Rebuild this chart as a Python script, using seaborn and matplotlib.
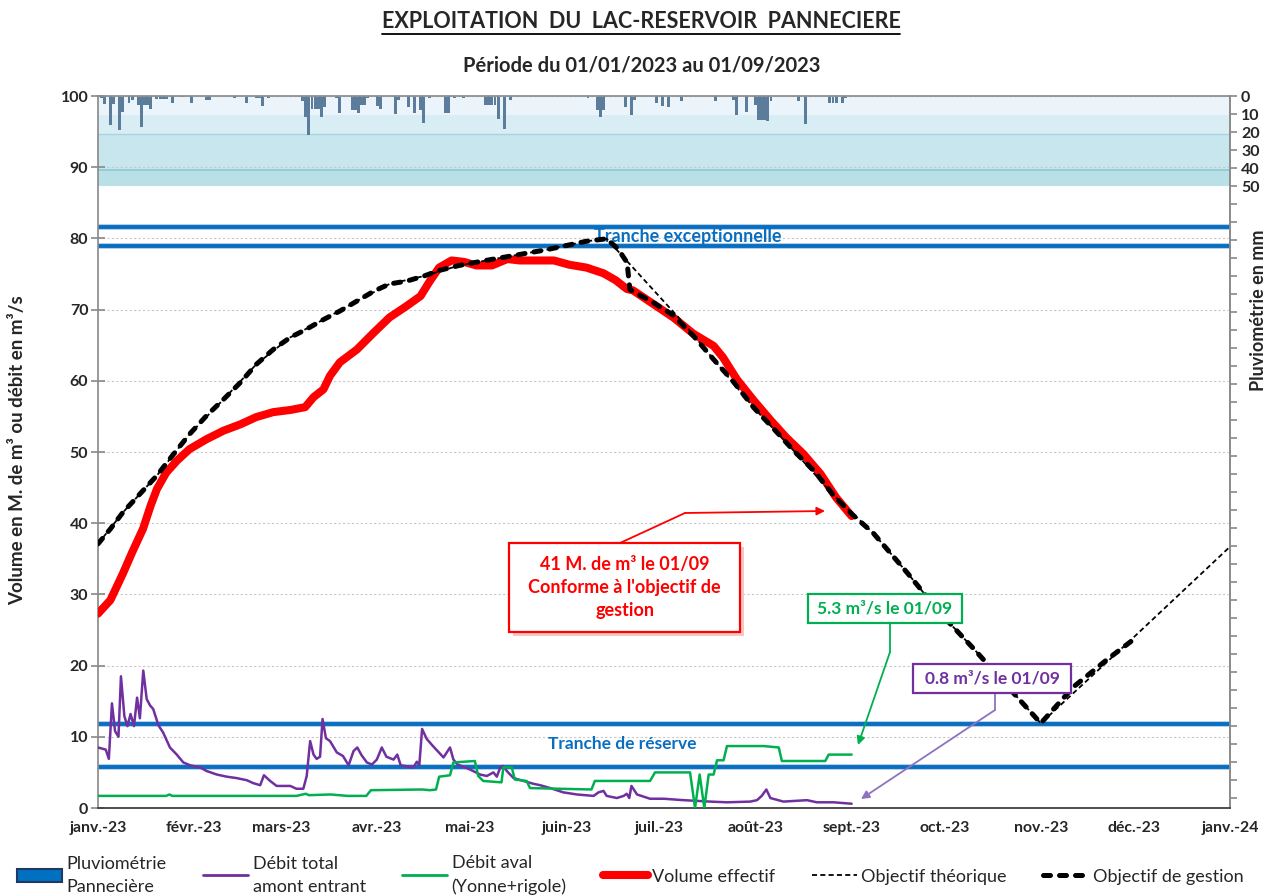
"""Exploitation du lac-réservoir de Pannecière - volume, débits et pluviométrie 2023."""
import pandas as pd
import matplotlib
matplotlib.use("Agg")
import matplotlib.pyplot as plt
import matplotlib.patheffects as pe
from matplotlib.lines import Line2D
from matplotlib.patches import Patch, Rectangle
import seaborn as sns

DEBUT = pd.Timestamp("2023-01-01")
FIN = pd.Timestamp("2024-01-01")

mois_labels = ["janv.-23", "févr.-23", "mars-23", "avr.-23", "mai-23", "juin-23", "juil.-23",
               "août-23", "sept.-23", "oct.-23", "nov.-23", "déc.-23", "janv.-24"]

# volume effectif (M. de m3), jours depuis le 01/01/2023
vol_jour = [0, 4, 8, 11, 14.5, 17, 19, 22, 25.5, 29.5, 35, 40.5, 46, 51, 56.5, 62, 66.8, 69.5,
            72.7, 74.8, 78, 83.5, 89, 94, 99.5, 104, 107, 110, 114, 118, 122, 127, 132, 136,
            141, 147, 152, 157.5, 163, 167, 170.5, 172.5, 179, 185.5, 192, 198.5, 201.5, 206,
            211.5, 217, 222, 227.5, 233, 238, 243]
vol_val = [27.3, 29.2, 32.9, 35.9, 39.2, 42.5, 44.8, 47.1, 48.8, 50.4, 51.8, 53.0, 53.9, 54.9,
           55.6, 55.9, 56.3, 57.7, 58.8, 60.7, 62.6, 64.4, 66.8, 68.9, 70.5, 71.9, 74.0, 75.9,
           76.9, 76.7, 76.2, 76.2, 77.1, 76.9, 76.9, 76.9, 76.3, 75.9, 75.1, 74.1, 72.9, 72.7,
           70.8, 68.9, 66.6, 64.9, 63.3, 60.2, 57.2, 54.4, 52.0, 49.7, 46.9, 43.6, 41.0]

# objectif de gestion
gest_jour = [0, 4, 8, 13.5, 19, 24, 29.5, 35, 40.5, 46, 51, 56.5, 62, 67, 72.7, 78, 83.5, 89,
             94, 99.5, 105, 110, 116.5, 125, 131.5, 138, 144.5, 151, 157.5, 164, 167.7, 170.6,
             171.5, 179, 185.5, 192, 198.5, 205, 211.5, 218, 224.5, 231, 237, 243, 250, 261,
             271.5, 282.5, 293, 304, 314.5, 325.5, 334]
gest_val = [37.1, 39.2, 41.5, 44.1, 46.7, 49.5, 52.5, 55.1, 57.4, 59.8, 62.3, 64.4, 66.1, 67.2,
            68.6, 69.8, 71.2, 72.6, 73.6, 74.0, 74.7, 75.5, 76.2, 76.9, 77.4, 77.9, 78.4, 79.0,
            79.6, 79.95, 78.5, 76.6, 72.8, 71.0, 69.2, 66.3, 63.0, 59.8, 56.2, 53.2, 50.1, 47.3,
            44.0, 41.3, 38.6, 33.0, 27.4, 22.3, 17.2, 11.9, 17.0, 20.9, 23.7]

# objectif théorique
theo_jour = [0, 8, 19, 29.5, 40.5, 51, 62, 72.7, 83.5, 94, 105, 116.5, 131.5, 144.5, 157.5,
             164, 188, 198.5, 211.5, 224.5, 237, 250, 261, 271.5, 282.5, 293, 304, 334, 365]
theo_val = [37.1, 41.5, 46.7, 52.5, 57.4, 62.3, 66.1, 68.6, 71.2, 73.6, 74.7, 76.2, 77.4, 78.4,
            79.6, 79.95, 68.5, 63.0, 56.2, 50.1, 44.0, 38.6, 33.0, 27.4, 22.3, 17.2, 11.9, 24.0,
            36.7]

# débit total amont entrant (m3/s)
amont_jour = [0, 2.5, 3.5, 4.5, 5.5, 6.6, 7.4, 8.5, 9.5, 10.5, 11.6, 12.6, 13.5, 14.6, 15.7,
              16.8, 17.8, 19.5, 21, 23.2, 25.4, 27.5, 29.7, 32.9, 35, 38.3, 41.5, 44.7, 48, 50,
              52.3, 53.5, 55.5, 57.6, 62, 64, 66.2, 67.3, 68.4, 69.5, 70.5, 71.6, 72.4, 73.5,
              74.8, 77, 79, 80.8, 82.4, 83.6, 85, 86.7, 88.3, 89.9, 91.5, 93, 95.3, 96.5, 97.6,
              101.7, 102.8, 103.6, 104.5, 106, 108, 111.4, 113.5, 114.6, 116, 120, 123.2, 125.4,
              127.5, 128.6, 129.7, 130.7, 131.8, 134, 137.2, 140.4, 142.6, 145.8, 150, 154.4,
              159.8, 161.4, 163, 164, 167.3, 169.5, 170.5, 171.3, 172, 173.8, 178, 182.4, 188.8,
              197.4, 202.8, 210.3, 212.5, 214, 215.5, 216.8, 221, 228.6, 231.8, 237.2, 243]
amont_val = [8.5, 8.2, 6.9, 14.7, 10.8, 10.0, 18.5, 12.9, 11.5, 13.2, 11.5, 15.5, 12.6, 19.3,
             15.3, 14.4, 13.9, 11.6, 10.6, 8.5, 7.5, 6.4, 6.0, 5.7, 5.2, 4.7, 4.4, 4.2, 3.9, 3.5,
             3.2, 4.6, 3.8, 3.1, 3.1, 2.7, 2.7, 4.5, 9.4, 7.5, 6.9, 7.2, 12.5, 9.8, 9.4, 7.8,
             7.3, 6.0, 8.0, 8.5, 7.4, 6.4, 6.1, 6.8, 8.5, 7.2, 6.8, 7.5, 6.0, 5.7, 6.5, 6.0,
             11.1, 9.7, 8.7, 7.1, 8.5, 6.8, 6.1, 5.4, 4.7, 4.5, 5.0, 4.4, 5.7, 5.9, 5.2, 4.2,
             3.8, 3.4, 3.2, 2.8, 2.2, 1.9, 1.7, 2.2, 2.4, 1.7, 1.4, 1.7, 2.0, 1.4, 3.1, 1.9,
             1.3, 1.3, 1.1, 0.9, 0.8, 0.9, 1.1, 1.7, 2.6, 1.4, 0.9, 1.1, 0.8, 0.8, 0.6]

# débit aval (Yonne + rigole)
aval_jour = [0, 22, 23, 24, 64, 67, 68, 75, 80.5, 86.5, 88, 104.6, 107, 109, 110, 113.5, 114.6,
             121.5, 122.6, 124.2, 130.1, 130.7, 133.4, 134.4, 138.2, 139.3, 159.1, 160.2, 178,
             179.6, 190.9, 192.5, 194, 195.5, 196.9, 198.5, 199.6, 201.7, 202.8, 214.6, 219.5,
             220.5, 234.5, 235.6, 243]
aval_val = [1.7, 1.7, 1.9, 1.7, 1.7, 2.0, 1.8, 1.9, 1.7, 1.7, 2.5, 2.6, 2.5, 2.6, 4.4, 4.6, 6.4,
            6.6, 4.5, 3.8, 3.6, 5.7, 5.7, 4.0, 3.8, 2.8, 2.6, 3.8, 3.8, 5.0, 5.0, 0.0, 4.7, 0.0,
            4.7, 4.7, 6.7, 6.7, 8.7, 8.7, 8.5, 6.6, 6.6, 7.5, 7.5]

# pluviométrie journalière Pannecière (mm), jours de pluie seulement
pluie_jour = [1, 2, 4, 5, 7, 8, 10, 11, 13, 14, 15, 16, 17, 19, 20, 21, 22, 24, 27, 30, 35, 36,
              44, 48, 51, 52, 53, 55, 66, 67, 68, 69, 70, 71, 72, 73, 77, 78, 82, 83, 84, 85, 86,
              87, 90, 91, 96, 97, 100, 102, 104, 105, 107, 112, 113, 115, 118, 125, 126, 127,
              128, 129, 131, 133, 158, 161, 162, 163, 170, 172, 173, 180, 182, 184, 188, 199,
              205, 206, 209, 212, 213, 214, 215, 216, 217, 226, 228, 236, 237, 238, 240, 241]
pluie_mm = [1.3, 4.4, 16, 4.4, 19, 8.7, 4, 2, 5, 17, 5, 5, 7.4, 1.5, 1.5, 1.5, 1.5, 4, 0.7, 4,
            2, 2, 1.3, 3.7, 1.3, 1.3, 5.5, 1.3, 3, 11.5, 21.7, 7, 7, 7, 11.8, 6, 1.3, 9.3, 7.8,
            7.8, 9.3, 5, 5, 1.3, 5.5, 7, 10, 2, 6, 9.3, 8, 14.8, 1.3, 9.3, 9.3, 1.3, 1.3, 5.2,
            5.2, 5.2, 5.2, 13, 18.5, 2, 1.3, 8, 11.8, 8, 6, 10.4, 2, 4, 5.5, 6, 2.6, 2.6, 2,
            10.4, 8.7, 5, 13.3, 13.3, 13.3, 14, 2.6, 2.6, 15.6, 3.7, 3.7, 3.7, 4, 1.3]

# tranches (M. de m3)
tranche_exc = [79.0, 81.6]
tranche_res = [5.8, 11.8]
# bandes de fond pluviométrie (mm)
bandes_mm = [0, 10.5, 21, 41, 50]
bandes_col = ["#EAF4FA", "#D9EDF4", "#C7E6ED", "#B9DFE7"]

BLEU = "#0A6EC0"
VIOLET = "#7030A0"
VERT = "#00B050"
W, H = 1268, 896


def en_dates(jours):
    return DEBUT + pd.to_timedelta(pd.Series(jours, dtype=float), unit="D")


def P(x, y):
    """pixels (origine en haut à gauche) -> fraction de figure"""
    return (x / W, 1 - y / H)


sns.set_theme(style="white")
plt.rcParams["font.family"] = ["Lato", "DejaVu Sans"]

fig = plt.figure(figsize=(W / 100, H / 100), dpi=100)
ax = fig.add_axes([98 / W, 1 - 808 / H, (1230 - 98) / W, (808 - 96) / H])
ax2 = ax.twinx()
ax.set_zorder(ax2.get_zorder() + 1)
ax.patch.set_visible(False)

# --- pluviométrie (axe droit inversé)
for (a, b), c in zip(zip(bandes_mm[:-1], bandes_mm[1:]), bandes_col):
    ax2.axhspan(a, b, color=c, lw=0, zorder=0)
ax2.axhline(bandes_mm[2], color="#A6D6E1", lw=1, zorder=1)
ax2.axhline(bandes_mm[3], color="#8FCBD8", lw=1.3, zorder=1)
ax2.bar(en_dates(pluie_jour), pluie_mm, width=0.95, color="#5B7C9A", lw=0, zorder=2)
ax2.set_ylim(395.5, 0)
ax2.set_yticks(range(0, 391, 10))
ax2.set_yticklabels([str(v) if v <= 50 else "" for v in range(0, 391, 10)],
                    fontsize=11.5, fontweight="bold")
ax2.tick_params(axis="y", direction="out", length=5, color="#8c8c8c", pad=3)
for s in ["left", "top", "bottom"]:
    ax2.spines[s].set_visible(False)
ax2.spines["right"].set_color("#8c8c8c")

# --- tranches
for v in tranche_exc + tranche_res:
    ax.axhline(v, color=BLEU, lw=2.8, zorder=2,
               path_effects=[pe.Stroke(linewidth=4, foreground="#9DC3E6"), pe.Normal()])

# --- séries
def trace(jours, vals, **kw):
    sns.lineplot(x=en_dates(jours), y=vals, ax=ax, legend=False, **kw)
    return ax.lines[-1]


trace(amont_jour, amont_val, color=VIOLET, lw=1.8, zorder=3)
trace(aval_jour, aval_val, color=VERT, lw=1.8, zorder=3)
ln = trace(vol_jour, vol_val, color="red", lw=5.8, zorder=4)
ln.set_solid_capstyle("round")
ln.set_solid_joinstyle("round")
ln = trace(theo_jour, theo_val, color="black", lw=1.3, zorder=5)
ln.set_dashes([2.8, 1.8])
ln = trace(gest_jour, gest_val, color="black", lw=3.6, zorder=6)
ln.set_dashes([1.4, 1.8])
ln.set_dash_capstyle("round")

ax.set_xlim(DEBUT, FIN)
ax.set_ylim(0, 100)
ax.set_yticks(range(0, 101, 10))
ax.set_yticklabels([str(v) for v in range(0, 101, 10)], fontsize=11.5, fontweight="bold")
ax.set_xticks(pd.date_range(DEBUT, FIN, freq="MS"))
ax.set_xticklabels(mois_labels, fontsize=11.3, fontweight="bold")
ax.tick_params(axis="y", direction="inout", length=10, color="#8c8c8c", pad=2)
ax.tick_params(axis="x", direction="inout", length=10, width=1.3, color="#404040", pad=4)
ax.set_xlabel("")
ax.set_ylabel("")
ax.yaxis.grid(True, color="#c8c8c8", ls=(0, (2, 2)), lw=0.8)
ax.xaxis.grid(False)
for s in ["left", "top", "right"]:
    ax.spines[s].set_color("#8c8c8c")
ax.spines["bottom"].set_color("#404040")
ax.spines["bottom"].set_linewidth(1.3)

ax.text(DEBUT + pd.Timedelta(days=190), 80.25, "Tranche exceptionnelle", color=BLEU,
        fontsize=13, fontweight="bold", ha="center", va="center", zorder=4)
ax.text(DEBUT + pd.Timedelta(days=169), 9.0, "Tranche de réserve", color=BLEU,
        fontsize=12.5, fontweight="bold", ha="center", va="center", zorder=4)

# --- titres
t = fig.text(*P(641, 22), "EXPLOITATION  DU  LAC-RESERVOIR  PANNECIERE", ha="center",
             va="center", fontsize=15.5, fontweight="bold")
fig.text(*P(642, 65), "Période du 01/01/2023 au 01/09/2023", ha="center", va="center",
         fontsize=14.5, fontweight="bold")
fig.text(*P(18, 450), "Volume en M. de m³ ou débit en m³/s", rotation=90, ha="center",
         va="center", fontsize=13.5, fontweight="bold")
fig.text(*P(1258, 310), "Pluviométrie en mm", rotation=90, ha="center", va="center",
         fontsize=13, fontweight="bold")


# --- encadrés
def encadre(x0, y0, x1, y1, couleur, lignes, ombre=False, taille=12.5):
    r = Rectangle(P(x0, y1), (x1 - x0) / W, (y1 - y0) / H, transform=fig.transFigure,
                  facecolor="white", edgecolor=couleur, lw=1.6, zorder=10)
    if ombre:
        r.set_path_effects([pe.SimplePatchShadow(offset=(3, -3), shadow_rgbFace="#F7B8B8",
                                                 alpha=0.8), pe.Normal()])
    fig.patches.append(r)
    fig.text(*P((x0 + x1) / 2, (y0 + y1) / 2), lignes, color=couleur, ha="center",
             va="center", fontsize=taille, fontweight="bold", linespacing=1.45, zorder=11)


def fleche(points, couleur):
    for a, b in zip(points[:-2], points[1:-1]):
        fig.lines.append(Line2D([P(*a)[0], P(*b)[0]], [P(*a)[1], P(*b)[1]],
                                transform=fig.transFigure, color=couleur, lw=1.3))
    fig.add_artist(plt.Annotation("", xy=P(*points[-1]), xytext=P(*points[-2]),
                                  xycoords="figure fraction", textcoords="figure fraction",
                                  arrowprops=dict(arrowstyle="-|>", color=couleur, lw=1.3,
                                                  mutation_scale=12, shrinkA=0, shrinkB=0)))


encadre(509, 543, 740, 632, "red",
        "41 M. de m³ le 01/09\nConforme à l'objectif de\ngestion", ombre=True, taille=13)
fleche([(620, 543), (685, 513), (825, 511)], "red")
encadre(808, 594, 962, 623, VERT, "5.3 m³/s le 01/09")
fleche([(890, 623), (890, 652), (858, 745)], VERT)
encadre(913, 664, 1071, 693, VIOLET, "0.8 m³/s le 01/09")
fleche([(995, 693), (995, 710), (861, 799)], "#8E72BE")

# --- légende
handles = [Patch(facecolor="#0070C0", edgecolor="#1F3864", lw=1.5),
           Line2D([], [], color=VIOLET, lw=2),
           Line2D([], [], color=VERT, lw=2),
           Line2D([], [], color="red", lw=5.8),
           Line2D([], [], color="black", lw=1.3, dashes=[2.8, 1.8]),
           Line2D([], [], color="black", lw=3.6, dashes=[1.4, 1.8], dash_capstyle="round")]
labels = ["Pluviométrie\nPannecière", "Débit total\namont entrant", "Débit aval\n(Yonne+rigole)",
          "Volume effectif", "Objectif théorique", "Objectif de gestion"]
leg = fig.legend(handles, labels, loc="upper left", bbox_to_anchor=P(10, 848), ncol=6,
                 frameon=False, fontsize=13, handlelength=2.5, columnspacing=2.0,
                 handletextpad=0.25, borderaxespad=0, labelspacing=0.3)
for txt in leg.get_texts():
    txt.set_linespacing(1.55)

# soulignement du titre
fig.canvas.draw()
bb = t.get_window_extent().transformed(fig.transFigure.inverted())
fig.lines.append(Line2D([bb.x0, bb.x1], [bb.y0 - 0.002, bb.y0 - 0.002], transform=fig.transFigure,
                        color="black", lw=1.3))

fig.savefig("out.png", dpi=100)
